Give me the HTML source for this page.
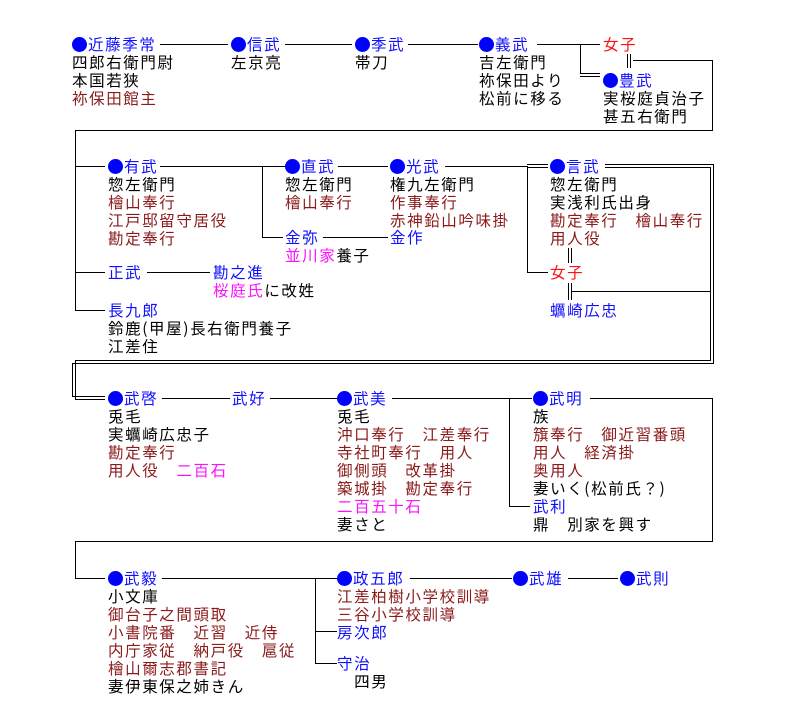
<!DOCTYPE html>
<html><head><meta charset="utf-8">
<style>
body{margin:0;background:#fff;width:794px;height:720px;position:relative;overflow:hidden}
.n{position:absolute;font-family:"Noto Sans CJK JP","Liberation Sans",sans-serif;font-size:15.5px;letter-spacing:1.6px;line-height:18px;white-space:pre;color:#000}
.b{color:#1010ff}.r{color:#8b1a1a}.m{color:#ff10ff}.R{color:#ff1010}
i{display:inline-block;width:15px;height:15px;border-radius:50%;background:#0000ff;vertical-align:-2px;margin-right:1px}
svg{position:absolute;left:0;top:0}
</style></head><body>
<svg width="794" height="720" stroke="#000" stroke-width="1" fill="none" shape-rendering="crispEdges">
<path d="M160 44.5H228M285 44.5H352M408 44.5H478M537 44.5H600"/>
<path d="M580.5 44V73.5H600M580 76.5H600"/>
<path d="M627.5 54V68M630.5 54V68"/>
<path d="M633 60.5H712.5V130.5H75.5V310.5H105M75 166.5H105M75 272.5H105"/>
<path d="M160 166.5H285M262.5 166V237.5H283M338 166.5H388M323 237.5H388"/>
<path d="M445 166.5H527.5V272.5H548"/>
<path d="M527 164.5H548M527 167.5H548"/>
<path d="M605 164.5H713.5V363.5H72.5V396.5H105M605 167.5H710.5V360.5H75.5V399.5H105"/>
<path d="M568.5 248V263M571.5 248V263M568.5 283V300M571.5 283V300M572 291.5H711"/>
<path d="M147 272.5H210"/>
<path d="M162 398.5H230M270 398.5H337M392 398.5H532M509.5 398V506.5H530M590 398.5H712.5V541.5H75.5V578.5H105"/>
<path d="M162 578.5H337M315.5 578V663.5H337M315 631.5H337M410 578.5H512M568 578.5H618"/>
</svg>

<div class="n" style="left:72px;top:35px"><i></i><span class="b">近藤季常</span>
四郎右衛門尉
本国若狭
<span class="r">袮保田館主</span></div>
<div class="n" style="left:231px;top:35px"><i></i><span class="b">信武</span>
左京亮</div>
<div class="n" style="left:355px;top:35px"><i></i><span class="b">季武</span>
帯刀</div>
<div class="n" style="left:479px;top:35px"><i></i><span class="b">義武</span>
吉左衛門
袮保田より
松前に移る</div>
<div class="n R" style="left:603px;top:35px">女子</div>
<div class="n" style="left:603px;top:71px"><i></i><span class="b">豊武</span>
実桜庭貞治子
甚五右衛門</div>

<div class="n" style="left:108px;top:157px"><i></i><span class="b">有武</span>
惣左衛門
<span class="r">檜山奉行
江戸邸留守居役
勘定奉行</span></div>
<div class="n" style="left:285px;top:157px"><i></i><span class="b">直武</span>
惣左衛門
<span class="r">檜山奉行</span></div>
<div class="n" style="left:390px;top:157px"><i></i><span class="b">光武</span>
権九左衛門
<span class="r">作事奉行
赤神鉛山吟味掛</span></div>
<div class="n" style="left:550px;top:157px"><i></i><span class="b">言武</span>
惣左衛門
実浅利氏出身
<span class="r">勘定奉行　檜山奉行
用人役</span></div>
<div class="n" style="left:285px;top:228px"><span class="b">金弥</span>
<span class="m">並川家</span>養子</div>
<div class="n b" style="left:390px;top:228px">金作</div>
<div class="n R" style="left:550px;top:263px">女子</div>
<div class="n b" style="left:550px;top:301px">蠣崎広忠</div>
<div class="n b" style="left:108px;top:263px">正武</div>
<div class="n" style="left:213px;top:263px"><span class="b">勘之進</span>
<span class="m">桜庭氏</span>に改姓</div>
<div class="n" style="left:108px;top:301px"><span class="b">長九郎</span>
鈴鹿(甲屋)長右衛門養子
江差住</div>

<div class="n" style="left:108px;top:389px"><i></i><span class="b">武啓</span>
兎毛
実蠣崎広忠子
<span class="r">勘定奉行
用人役</span>　<span class="m">二百石</span></div>
<div class="n b" style="left:232px;top:389px">武好</div>
<div class="n" style="left:337px;top:389px"><i></i><span class="b">武美</span>
兎毛
<span class="r">沖口奉行　江差奉行
寺社町奉行　用人
御側頭　改革掛
築城掛　勘定奉行</span>
<span class="m">二百五十石</span>
妻さと</div>
<div class="n" style="left:533px;top:389px"><i></i><span class="b">武明</span>
族
<span class="r">籏奉行　御近習番頭
用人　経済掛
奥用人</span>
妻いく(松前氏？)
<span class="b">武利</span>
鼎　別家を興す</div>

<div class="n" style="left:108px;top:569px"><i></i><span class="b">武毅</span>
小文庫
<span class="r">御台子之間頭取
小書院番　近習　近侍
内庁家従　納戸役　扈従
檜山爾志郡書記</span>
妻伊東保之姉きん</div>
<div class="n" style="left:337px;top:569px"><i></i><span class="b">政五郎</span>
<span class="r">江差柏樹小学校訓導
三谷小学校訓導</span>
<span class="b">房次郎</span></div>
<div class="n" style="left:337px;top:654px"><span class="b">守治</span>
　四男</div>
<div class="n" style="left:513px;top:569px"><i></i><span class="b">武雄</span></div>
<div class="n" style="left:620px;top:569px"><i></i><span class="b">武則</span></div>
</body></html>
